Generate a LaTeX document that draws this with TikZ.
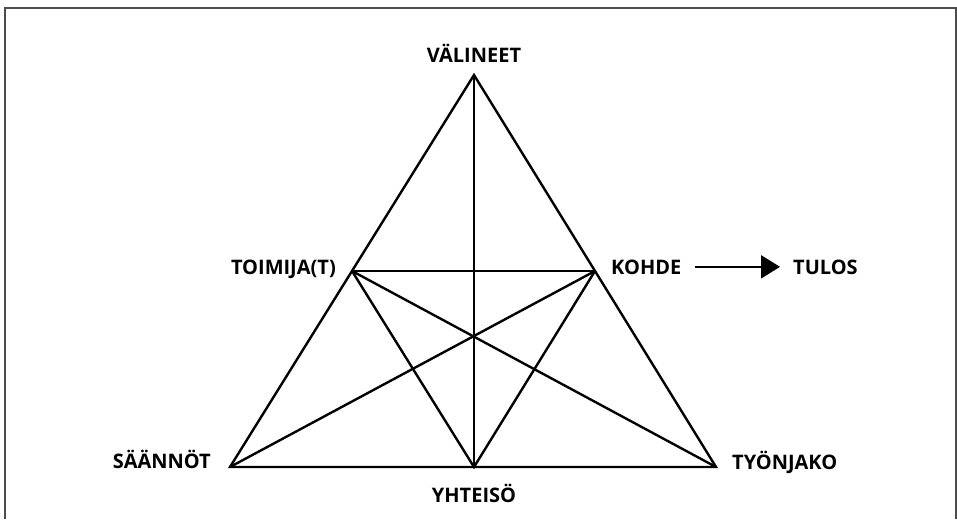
\documentclass[tikz,border=0pt]{standalone}
\usepackage{fontspec}
\setmainfont{Open Sans}
\usetikzlibrary{arrows.meta}

\begin{document}
\begin{tikzpicture}[x=1pt, y=-1pt, >={Triangle[length=19pt,width=23pt]},
    lbl/.style={inner sep=0pt, font=\bfseries\fontsize{20}{24}\selectfont},
    edge/.style={line width=2.4pt}]
        \useasboundingbox (0,0) rectangle (957,519);
        % ==== FRAME ====
        \draw[line width=1.8pt, black!70] (5,519) -- (5,8) -- (956,8) -- (956,519);
        % ==== CORNERS ====
        \coordinate (top) at (474,75);
        \coordinate (left) at (230,467);
        \coordinate (right) at (716,467);
        \coordinate (bottom) at (474,467);
        \coordinate (midleft) at (352,271);
        \coordinate (midright) at (595,271);
        % ==== TRIANGLE ====
        \draw[edge] (top) -- (left) -- (right) -- cycle;
        \draw[edge] (top) -- (bottom);
        \draw[edge] (midleft) -- (midright);
        \draw[edge] (midleft) -- (bottom) -- (midright);
        \draw[edge] (midleft) -- (right);
        \draw[edge] (midright) -- (left);
        % ==== LABELS ====
        \node[lbl, anchor=base] (valineet) at (474,63) {VÄLINEET};
        \node[lbl, anchor=base east] (toimija) at (336,274) {TOIMIJA(T)};
        \node[lbl, anchor=base west] (kohde) at (611,274) {KOHDE};
        \node[lbl, anchor=base west] (tulos) at (793,274) {TULOS};
        \node[lbl, anchor=base east] (saannot) at (211,468) {SÄÄNNÖT};
        \node[lbl, anchor=base west] (tyonjako) at (732,469) {TYÖNJAKO};
        \node[lbl, anchor=base] (yhteiso) at (474,502) {YHTEISÖ};
        % ==== RESULT ====
        \draw[->, line width=2.2pt, shorten <=13pt, shorten >=13pt] (kohde.east) -- (tulos.west);
\end{tikzpicture}
\end{document}
